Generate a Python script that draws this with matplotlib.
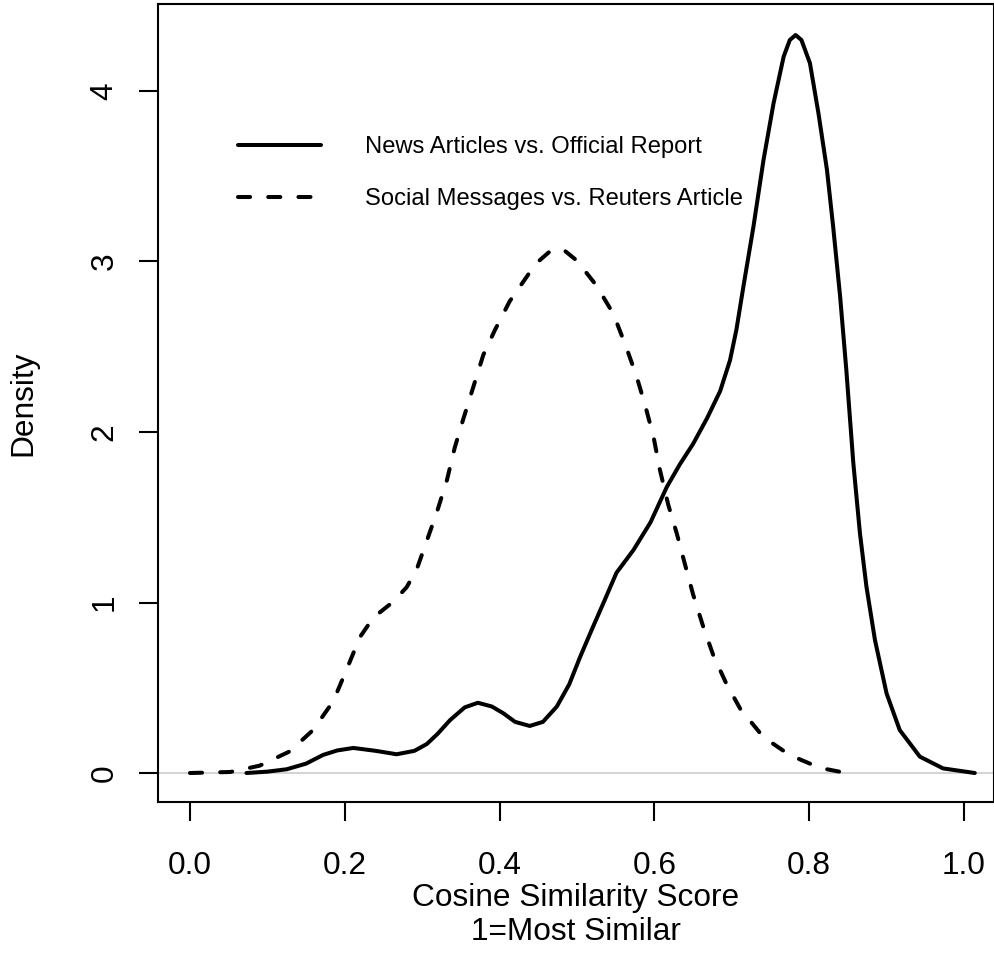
import matplotlib
matplotlib.use("Agg")
import matplotlib.pyplot as plt
from matplotlib.lines import Line2D

plt.rcParams["font.family"] = ["Liberation Sans", "DejaVu Sans"]

# Density estimates (x = cosine similarity, y = density)
news_x = [0.073, 0.10, 0.125, 0.15, 0.172, 0.19, 0.211, 0.24, 0.267, 0.29,
          0.306, 0.32, 0.336, 0.355, 0.372, 0.39, 0.405, 0.42, 0.439, 0.456,
          0.474, 0.49, 0.504, 0.52, 0.534, 0.551, 0.573, 0.595, 0.616, 0.633,
          0.650, 0.668, 0.685, 0.6977, 0.706, 0.715, 0.728, 0.741, 0.754,
          0.767, 0.775, 0.7825, 0.790, 0.801, 0.812, 0.823, 0.831, 0.840,
          0.848, 0.857, 0.8656, 0.874, 0.885, 0.900, 0.917, 0.943, 0.973,
          1.014]
news_y = [0.0, 0.008, 0.022, 0.055, 0.106, 0.132, 0.147, 0.13, 0.11, 0.13,
          0.17, 0.23, 0.31, 0.385, 0.412, 0.39, 0.35, 0.30, 0.276, 0.30,
          0.39, 0.52, 0.68, 0.85, 0.995, 1.174, 1.308, 1.47, 1.677, 1.811,
          1.93, 2.08, 2.24, 2.42, 2.60, 2.852, 3.204, 3.595, 3.928,
          4.201, 4.299, 4.328, 4.299, 4.163, 3.869, 3.537, 3.204, 2.794,
          2.364, 1.82, 1.406, 1.093, 0.78, 0.467, 0.252, 0.096, 0.027,
          0.0]

social_x = [0.0, 0.052, 0.09, 0.129, 0.159, 0.185, 0.2025, 0.2196, 0.237,
            0.263, 0.280, 0.293, 0.306, 0.319, 0.332, 0.342, 0.353, 0.366,
            0.379, 0.394, 0.413, 0.437, 0.45, 0.465, 0.474, 0.485, 0.4996,
            0.525, 0.547, 0.564, 0.577, 0.588, 0.599, 0.607, 0.618, 0.629,
            0.640, 0.650, 0.663, 0.676, 0.693, 0.711, 0.741, 0.775, 0.814,
            0.848]
social_y = [0.0, 0.006, 0.043, 0.127, 0.252, 0.420, 0.608, 0.797, 0.912,
            1.006, 1.090, 1.195, 1.362, 1.530, 1.718, 1.907, 2.074, 2.263,
            2.452, 2.598, 2.766, 2.923, 3.0, 3.059, 3.076, 3.06, 3.006,
            2.860, 2.693, 2.493, 2.326, 2.158, 1.970, 1.781, 1.572, 1.404,
            1.216, 1.048, 0.860, 0.692, 0.524, 0.376, 0.21, 0.105, 0.03,
            0.0]

labels = ["News Articles vs. Official Report",
          "Social Messages vs. Reuters Article"]
x_ticks = [0.0, 0.2, 0.4, 0.6, 0.8, 1.0]
y_ticks = [0, 1, 2, 3, 4]

fig = plt.figure(figsize=(9.95, 9.55), dpi=100)
ax = fig.add_axes([158 / 995, 153 / 955, 836 / 995, 798 / 955])

lw = 2.9
dash = (0, (3, 4.5))
ax.axhline(0, color="#d3d3d3", lw=1.4, zorder=1)
ax.plot(news_x, news_y, color="black", lw=lw, solid_capstyle="round",
        solid_joinstyle="round", zorder=3)
ax.plot(social_x, social_y, color="black", lw=lw, linestyle=dash,
        dash_capstyle="round", zorder=3)

ax.set_xlim(-0.0413, 1.0388)
ax.set_ylim(-0.17, 4.51)
ax.set_xticks(x_ticks)
ax.set_xticklabels([f"{v:.1f}" for v in x_ticks])
ax.set_yticks(y_ticks)
ax.set_yticklabels([str(v) for v in y_ticks], rotation=90, va="center")

for s in ax.spines.values():
    s.set_linewidth(1.5)
ax.tick_params(axis="both", length=14, width=1.5, labelsize=22.8)
ax.tick_params(axis="x", pad=21.6)
ax.tick_params(axis="y", pad=13.7)

ax.set_xlabel("Cosine Similarity Score\n1=Most Similar", fontsize=22.8,
              linespacing=1.15)
ax.xaxis.set_label_coords(0.5, -0.102)
ax.xaxis.label.set_va("top")
ax.set_ylabel("Density", fontsize=22.8)
ax.yaxis.set_label_coords(-0.1615, 0.5)
ax.yaxis.label.set_va("center")

handles = [
    Line2D([], [], color="black", lw=lw, solid_capstyle="round"),
    Line2D([], [], color="black", lw=lw, linestyle=dash, dash_capstyle="round"),
]
ax.legend(handles, labels, loc="upper left",
          bbox_to_anchor=(238 / 995, (955 - 136) / 955),
          bbox_transform=fig.transFigure, frameon=False, fontsize=17.1,
          handlelength=3.5, handletextpad=1.85, labelspacing=1.26,
          borderpad=0, borderaxespad=0)

fig.savefig("out.png", dpi=100)
